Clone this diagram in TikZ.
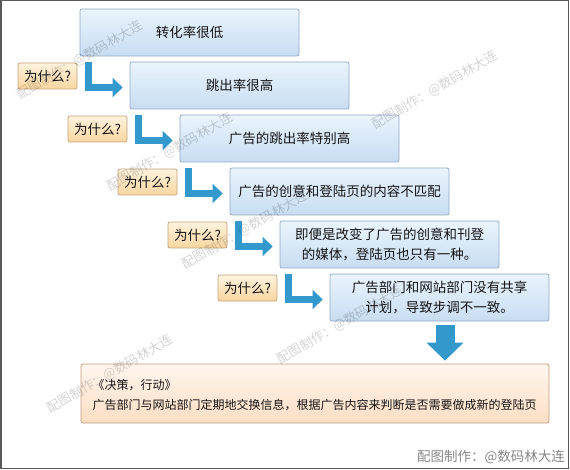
\documentclass[tikz,border=0pt]{standalone}
\usepackage{fontspec}
\setmainfont{Noto Sans CJK SC}
\usetikzlibrary{arrows.meta,calc}
\definecolor{arrowblue}{RGB}{51,153,204}
\definecolor{boxtop}{RGB}{234,244,253}
\definecolor{boxbot}{RGB}{200,221,242}
\definecolor{boxborder}{RGB}{145,169,200}
\definecolor{whytop}{RGB}{255,243,222}
\definecolor{whybot}{RGB}{249,214,160}
\definecolor{whyborder}{RGB}{196,163,122}
\definecolor{bottop}{RGB}{255,246,238}
\definecolor{botbot}{RGB}{253,222,196}
\definecolor{botborder}{RGB}{199,158,127}
\definecolor{textcol}{RGB}{20,20,20}
\definecolor{framecol}{RGB}{90,90,90}
\begin{document}
\begin{tikzpicture}[x=1pt,y=-1pt,
  stepbox/.style={draw=boxborder, line width=0.8pt, rounded corners=2pt,
    top color=boxtop, bottom color=boxbot, minimum width=219pt, minimum height=47pt,
    inner sep=0pt, align=center, font=\fontsize{13.5}{20}\selectfont, text=textcol},
  whybox/.style={draw=whyborder, line width=0.8pt, rounded corners=2pt,
    top color=whytop, bottom color=whybot, minimum width=59pt, minimum height=26pt,
    inner sep=0pt, font=\fontsize{13.5}{13.5}\selectfont, text=textcol},
  botbox/.style={draw=botborder, line width=0.8pt, rounded corners=2pt,
    top color=bottop, bottom color=botbot, minimum width=468pt, minimum height=59pt,
    inner sep=0pt},
  elbow/.style={draw=arrowblue, line width=7.5pt, line join=miter,
    -{Triangle[width=19pt,length=10pt]}},
  downarrow/.style={draw=arrowblue, line width=19pt,
    -{Triangle[width=36pt,length=18pt]}},
  wm/.style={rotate=30, text=black, opacity=0.17, font=\fontsize{13}{13}\selectfont}]
\useasboundingbox (0,0) rectangle (570,470);
\fill[white] (0,0) rectangle (570,470);

% main boxes
\node[stepbox] (b1) at (189.5,32.5) {转化率很低};
\node[stepbox] (b2) at (239.5,85.5) {跳出率很高};
\node[stepbox] (b3) at (289.5,138.5) {广告的跳出率特别高};
\node[stepbox] (b4) at (339.5,191.5) {广告的创意和登陆页的内容不匹配};
\node[stepbox] (b5) at (389.5,244.5) {即便是改变了广告的创意和刊登\\的媒体，登陆页也只有一种。};
\node[stepbox] (b6) at (439.5,297.5) {广告部门和网站部门没有共享\\计划，导致步调不一致。};

% why labels
\node[whybox] (w1) at (47.5,76) {为什么?};
\node[whybox] (w2) at (97.5,129) {为什么?};
\node[whybox] (w3) at (147.5,182) {为什么?};
\node[whybox] (w4) at (197.5,235) {为什么?};
\node[whybox] (w5) at (247.5,288) {为什么?};

% elbow arrows
\draw[elbow] ($(b1.south west)+(9,6)$) |- ($(b2.west)+(-7,2)$);
\draw[elbow] ($(b2.south west)+(9,6)$) |- ($(b3.west)+(-7,2)$);
\draw[elbow] ($(b3.south west)+(9,6)$) |- ($(b4.west)+(-7,2)$);
\draw[elbow] ($(b4.south west)+(9,6)$) |- ($(b5.west)+(-7,2)$);
\draw[elbow] ($(b5.south west)+(9,6)$) |- ($(b6.west)+(-7,2)$);

% bottom box
\node[botbox] (bot) at (315,393.5) {};
\node[anchor=west, inner sep=0pt, align=left, text=textcol,
  font=\fontsize{12}{20}\selectfont] (bt) at (92.5,395)
  {《决策，行动》\\广告部门与网站部门定期地交换信息，根据广告内容来判断是否需要做成新的登陆页};

% down arrow
\coordinate (d0) at ($(b6.south)+(5.5,4)$);
\draw[downarrow] (d0) -- ($(d0 |- bot.north)+(0,-3)$);

% watermarks
\node[wm] (m1) at (80,60) {配图制作：@数码林大连};
\node[wm] (m2) at (435,90) {配图制作：@数码林大连};
\node[wm] (m3) at (170,152) {配图制作：@数码林大连};
\node[wm] (m4) at (245,230) {配图制作：@数码林大连};
\node[wm] (m5) at (340,325) {配图制作：@数码林大连};
\node[wm] (m6) at (110,374) {配图制作：@数码林大连};
\node[anchor=east, inner sep=0pt, text=black!47, font=\fontsize{13.5}{13.5}\selectfont]
  (sig) at (565,457) {配图制作：@数码林大连};

% frame
\draw[framecol, line width=1.5pt] (0.75,0.75) rectangle (568.5,468.5);
\end{tikzpicture}
\end{document}
